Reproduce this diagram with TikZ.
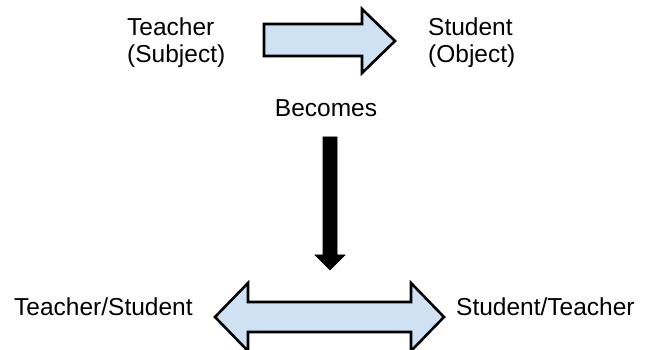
\documentclass[tikz,border=0pt]{standalone}
\usepackage{fontspec}
\setmainfont{Liberation Sans}
\definecolor{arrowfill}{HTML}{CFE2F3}
\begin{document}
\begin{tikzpicture}[x=1pt,y=-1pt,
  lbl/.style={inner sep=0pt,font=\fontsize{24.5}{26.5}\selectfont,align=left},
  blockarrow/.style={draw=black,line width=2.6pt,line join=miter,fill=arrowfill},
  downarrow/.style={draw=black,line width=0.6pt,line join=miter,fill=black}]
\useasboundingbox (0,0) rectangle (646,350);
\node[lbl,anchor=base west] (teacher) at (127,62.5) {Teacher\\(Subject)};
\node[lbl,anchor=base west] (student) at (428,62.5) {Student\\(Object)};
\node[lbl,anchor=base] (becomes) at (326,117) {Becomes};
\node[lbl,anchor=base west] (ts) at (14,316) {Teacher/Student};
\node[lbl,anchor=base west] (st) at (456,316) {Student/Teacher};
% top arrow
\draw[blockarrow] (264,24) -- (362,24) -- (362,9) -- (395,41) -- (362,73) -- (362,56) -- (264,56) -- cycle;
% down arrow
\draw[downarrow] (323,137) -- (337,137) -- (337,255) -- (345,255) -- (330,270) -- (315,255) -- (323,255) -- cycle;
% double arrow
\draw[blockarrow] (215,317) -- (248,283) -- (248,302) -- (411,302) -- (411,283) -- (444,317) -- (411,351) -- (411,332) -- (248,332) -- (248,351) -- cycle;
\end{tikzpicture}
\end{document}
